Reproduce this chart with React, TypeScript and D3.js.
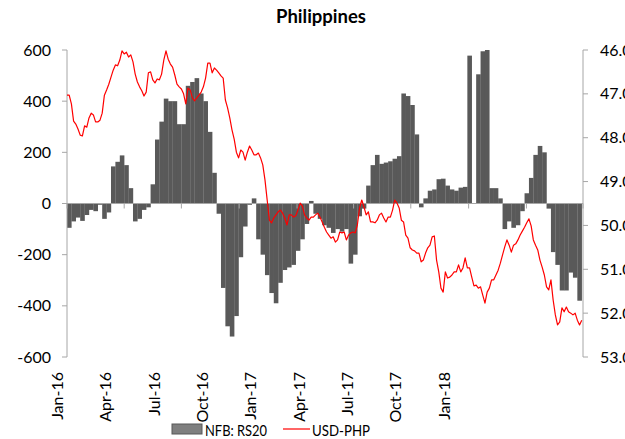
import React from "react";
import * as d3 from "d3";

// NFB: RS20 weekly values (weeks starting 1 Jan 2016)
const nfbValues = [
  -95, -70, -55, -68, -45, -25, -30, -5, -60, -35,
  145, 163, 188, 150, 60, -70, -60, -25, -15, 75,
  250, 320, 410, 400, 400, 310, 310, 460, 475, 490,
  430, 400, 280, 120, -40, -330, -480, -520, -440, -210,
  -90, -5, 20, -140, -200, -280, -350, -390, -310, -260,
  -250, -240, -185, -140, -80, 10, -40, -60, -85, -95,
  -115, -100, -110, -100, -235, -200, -50, -20, 70, 150,
  190, 155, 160, 165, 175, 185, 430, 420, 385, 270,
  -15, 20, 50, 55, 95, 97, 70, 55, 50, 62,
  65, 578, 0, 505, 595, 600, 60, 60, 20, -100,
  -70, -95, -85, -30, 40, 100, 190, 225, 200, -20,
  -190, -240, -340, -340, -270, -290, -380,
];

// USD-PHP twice-weekly values (every 3.5 days from 1 Jan 2016)
const usdPhp = [
  47.03, 47.03, 47.23, 47.62, 47.69, 47.8, 47.94, 47.96, 47.73, 47.76,
  47.55, 47.44, 47.48, 47.64, 47.64, 47.6, 47.44, 47.03, 46.91, 46.78,
  46.62, 46.46, 46.34, 46.36, 46.23, 46.02, 46.09, 46.05, 46.16, 46.11,
  46.27, 46.55, 46.73, 46.84, 46.93, 47.05, 46.96, 46.52, 46.5, 46.68,
  46.75, 46.66, 46.68, 46.55, 46.23, 46.02, 46.21, 46.32, 46.39, 46.57,
  46.78, 46.84, 46.89, 47.0, 47.23, 46.87, 46.91, 47.09, 47.16, 47.09,
  47.03, 46.96, 46.84, 46.64, 46.3, 46.3, 46.52, 46.41, 46.46, 46.52,
  46.59, 46.64, 47.14, 47.32, 47.55, 47.82, 48.03, 48.33, 48.46, 48.28,
  48.33, 48.51, 48.33, 48.19, 48.28, 48.39, 48.39, 48.35, 48.46, 48.62,
  48.96, 49.42, 49.88, 49.94, 49.83, 49.76, 49.69, 49.65, 49.72, 49.83,
  49.99, 49.76, 49.76, 49.81, 49.78, 49.65, 49.49, 49.56, 49.76, 49.83,
  49.88, 49.81, 49.81, 49.76, 49.72, 49.81, 49.92, 50.04, 50.15, 50.22,
  50.29, 50.26, 50.38, 50.33, 50.15, 50.17, 50.15, 50.33, 50.22, 50.17,
  50.15, 50.17, 49.99, 49.6, 49.42, 49.58, 49.76, 49.69, 49.92, 49.92,
  49.94, 49.88, 49.76, 49.72, 49.83, 49.92, 49.81, 49.81, 49.65, 49.42,
  49.49, 49.6, 49.88, 49.92, 50.22, 50.29, 50.51, 50.56, 50.58, 50.63,
  50.63, 50.83, 50.79, 50.63, 50.51, 50.45, 50.26, 50.24, 50.79, 51.06,
  51.43, 51.52, 51.06, 51.2, 51.18, 51.13, 51.06, 51.06, 50.9, 51.06,
  50.97, 50.74, 50.97, 50.97, 51.18, 51.38, 51.36, 51.43, 51.4, 51.59,
  51.77, 51.52, 51.43, 51.24, 51.24, 51.13, 51.02, 50.86, 50.67, 50.49,
  50.33, 50.45, 50.61, 50.45, 50.42, 50.33, 50.22, 50.13, 50.04, 49.94,
  49.85, 50.01, 50.33, 50.45, 50.56, 50.79, 50.95, 51.13, 51.4, 51.47,
  51.24, 51.7, 52.04, 52.27, 52.2, 51.88, 51.97, 51.86, 51.97, 52.0,
  52.04, 52.0, 52.16, 52.27, 52.16,
];

const leftTicks = [600, 400, 200, 0, -200, -400, -600];
const rightTicks = [46, 47, 48, 49, 50, 51, 52, 53];
const xLabels = ["Jan-16", "Apr-16", "Jul-16", "Oct-16", "Jan-17", "Apr-17", "Jul-17", "Oct-17", "Jan-18"];

const START = new Date(2016, 0, 1);
const END = new Date(2018, 3, 1);
const DAY = 86400000;

export default function App() {
  const W = 625, H = 439;
  const plotLeft = 67, plotRight = 583, plotTop = 50, plotBottom = 357;
  const x = d3.scaleTime().domain([START, END]).range([plotLeft, plotRight]);
  const yL = d3.scaleLinear().domain([-600, 600]).range([plotBottom, plotTop]);
  const yR = d3.scaleLinear().domain([46, 53]).range([plotTop, plotBottom]);
  const labelX = d3.scalePoint().domain(xLabels).range([57.5, 444]);
  const quarterTicks = d3.timeMonth.every(3)!.range(START, new Date(2018, 3, 2));

  const bars = nfbValues.map((v, i) => {
    const d0 = new Date(START.getTime() + i * 7 * DAY);
    const d1 = new Date(START.getTime() + (i + 1) * 7 * DAY);
    const x0 = x(d0), x1 = Math.min(x(d1), plotRight);
    return { x: x0, w: Math.max(0, x1 - x0), y: Math.min(yL(v), yL(0)), h: Math.abs(yL(v) - yL(0)) };
  });

  const line = d3
    .line<number>()
    .x((_, j) => x(new Date(START.getTime() + j * 3.5 * DAY)))
    .y((v) => yR(v));

  const font = "Lato, 'Open Sans', sans-serif";
  const axisColor = "#a6a6a6";
  const fs = 16;

  return (
    <svg width={W} height={H} style={{ position: "absolute", left: 0, top: 0, background: "#fff" }} fontFamily={font}>
      <text x={321} y={23} textAnchor="middle" fontSize={18.5} fontWeight="bold" fill="#000">Philippines</text>

      {bars.map((b, i) => (
        <rect key={i} x={b.x} y={b.y} width={b.w + 0.2} height={b.h} fill="#595959" />
      ))}

      {/* zero line with quarter ticks */}
      <line x1={plotLeft} x2={plotRight} y1={yL(0)} y2={yL(0)} stroke={axisColor} strokeWidth={1} />
      {quarterTicks.map((d, i) => (
        <line key={i} x1={x(d)} x2={x(d)} y1={yL(0)} y2={yL(0) + 5} stroke={axisColor} strokeWidth={1} />
      ))}

      {/* left axis */}
      <line x1={plotLeft} x2={plotLeft} y1={plotTop} y2={plotBottom} stroke={axisColor} strokeWidth={1} />
      {leftTicks.map((t) => (
        <g key={t}>
          <line x1={plotLeft - 5} x2={plotLeft} y1={yL(t)} y2={yL(t)} stroke={axisColor} />
          <text x={51} y={yL(t)} dy="0.35em" textAnchor="end" fontSize={fs} fill="#000">{t}</text>
        </g>
      ))}

      {/* right axis */}
      <line x1={plotRight} x2={plotRight} y1={plotTop} y2={plotBottom} stroke={axisColor} strokeWidth={1} />
      {rightTicks.map((t) => (
        <g key={t}>
          <line x1={plotRight} x2={plotRight + 5} y1={yR(t)} y2={yR(t)} stroke={axisColor} />
          <text x={600} y={yR(t)} dy="0.35em" textAnchor="start" fontSize={fs} fill="#000">{t.toFixed(2)}</text>
        </g>
      ))}

      <path d={line(usdPhp) || ""} fill="none" stroke="#ff0000" strokeWidth={1.2} strokeLinejoin="round" />

      {/* x labels */}
      {xLabels.map((l) => (
        <text key={l} transform={`translate(${labelX(l)},372) rotate(-90)`} dy="0.35em" textAnchor="end" fontSize={fs} fill="#000">{l}</text>
      ))}

      {/* legend */}
      <rect x={172} y={424} width={30} height={10} fill="#7f7f7f" stroke="#595959" strokeWidth={1} />
      <text x={205} y={435.5} fontSize={15} fill="#000" textLength={62} lengthAdjust="spacingAndGlyphs">NFB: RS20</text>
      <line x1={283} x2={310} y1={429} y2={429} stroke="#ff0000" strokeWidth={1.2} />
      <text x={312} y={435.5} fontSize={15} fill="#000" textLength={58} lengthAdjust="spacingAndGlyphs">USD-PHP</text>
    </svg>
  );
}
